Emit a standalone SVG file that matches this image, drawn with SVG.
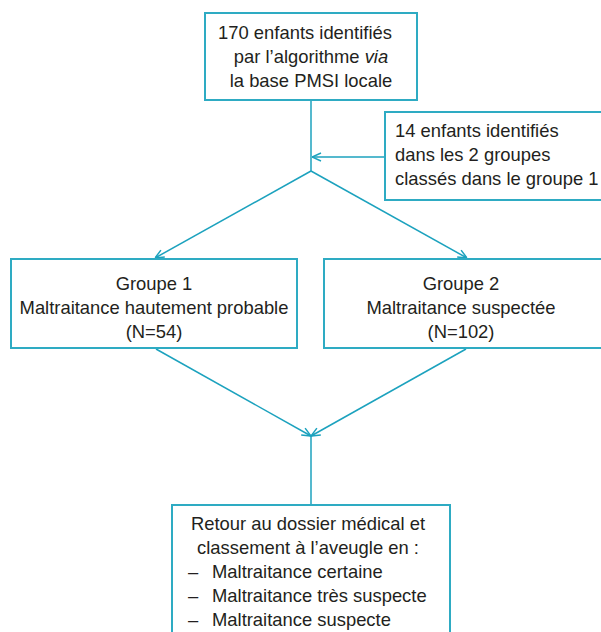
<svg xmlns="http://www.w3.org/2000/svg" width="601" height="632" viewBox="0 0 601 632">
<style>
  .box { fill: #ffffff; stroke: #2eabc3; stroke-width: 2; }
  .t { font-family: "Liberation Sans", Arial, sans-serif; font-size: 18.4px; fill: #231f20; }
  .c { text-anchor: middle; }
  .conn { stroke: #1ca2be; stroke-width: 1.5; fill: none; }
</style>
<defs>
  <marker id="arr" viewBox="0 0 10 10" refX="10" refY="5" markerWidth="10" markerHeight="10" markerUnits="userSpaceOnUse" orient="auto">
    <path d="M1,1 L10,5 L1,9" fill="none" stroke="#1ca2be" stroke-width="1.5"/>
  </marker>
</defs>
<rect width="601" height="632" fill="#ffffff"/>
<g id="connectors">
  <line class="conn" x1="311" y1="100" x2="311" y2="171"/>
  <line class="conn" x1="385" y1="157" x2="312" y2="157" marker-end="url(#arr)"/>
  <line class="conn" x1="311" y1="171" x2="155" y2="258" marker-end="url(#arr)"/>
  <line class="conn" x1="311" y1="171" x2="467" y2="258" marker-end="url(#arr)"/>
  <line class="conn" x1="156" y1="349" x2="311" y2="436" marker-end="url(#arr)"/>
  <line class="conn" x1="466" y1="349" x2="311" y2="436" marker-end="url(#arr)"/>
  <line class="conn" x1="311" y1="436" x2="311" y2="505"/>
</g>
<g id="start">
  <rect class="box" x="205" y="13" width="212" height="87"/>
  <text class="t c" x="305" y="39">170 enfants identifiés</text>
  <text class="t c" x="311" y="63">par l’algorithme <tspan font-style="italic">via</tspan></text>
  <text class="t c" x="311" y="87">la base PMSI locale</text>
</g>
<g id="extra">
  <rect class="box" x="385" y="112" width="230" height="88"/>
  <text class="t" x="395" y="137">14 enfants identifiés</text>
  <text class="t" x="395" y="161">dans les 2 groupes</text>
  <text class="t" x="395" y="185">classés dans le groupe 1</text>
</g>
<g id="groupe1">
  <rect class="box" x="11" y="259" width="286" height="89"/>
  <text class="t c" x="154" y="290">Groupe 1</text>
  <text class="t c" x="154" y="314">Maltraitance hautement probable</text>
  <text class="t c" x="154" y="338">(N=54)</text>
</g>
<g id="groupe2">
  <rect class="box" x="324" y="259" width="290" height="89"/>
  <text class="t c" x="461" y="290">Groupe 2</text>
  <text class="t c" x="461" y="314">Maltraitance suspectée</text>
  <text class="t c" x="461" y="338">(N=102)</text>
</g>
<g id="retour">
  <rect class="box" x="172" y="505" width="278" height="140"/>
  <text class="t c" x="308" y="530">Retour au dossier médical et</text>
  <text class="t c" x="308" y="554">classement à l’aveugle en :</text>
  <text class="t" x="188" y="578">–</text>
  <text class="t" x="212" y="578">Maltraitance certaine</text>
  <text class="t" x="188" y="602">–</text>
  <text class="t" x="212" y="602">Maltraitance très suspecte</text>
  <text class="t" x="188" y="626">–</text>
  <text class="t" x="212" y="626">Maltraitance suspecte</text>
</g>
</svg>
